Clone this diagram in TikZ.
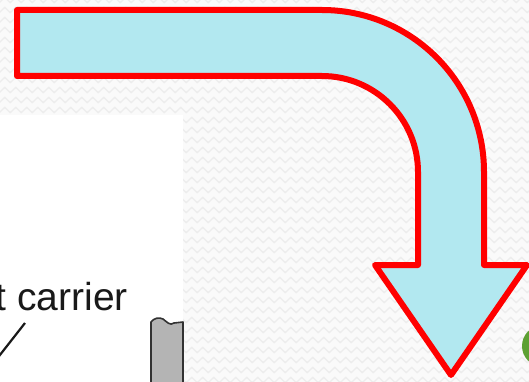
\documentclass[tikz,border=0pt]{standalone}
\usepackage{fontspec}
\setmainfont{Liberation Sans}
\usetikzlibrary{decorations.pathmorphing}
\definecolor{arrowfill}{RGB}{178,232,240}
\definecolor{arrowline}{RGB}{255,0,0}
\definecolor{bgbase}{RGB}{250,250,250}
\definecolor{bgzig}{RGB}{237,237,237}
\definecolor{bargrey}{RGB}{180,180,180}
\definecolor{barline}{RGB}{50,50,50}
\definecolor{leafgreen}{RGB}{92,160,50}
\tikzset{
  zigrow/.style={draw=bgzig, line width=1.3pt, decorate,
    decoration={zigzag, segment length=11pt, amplitude=2.6pt}},
  bigarrow/.style={draw=arrowline, fill=arrowfill, line width=6pt, line join=round},
  barpart/.style={draw=barline, fill=bargrey, line width=1.6pt, line join=round},
  leader/.style={draw=black!90, line width=2.2pt},
  labeltext/.style={inner sep=0pt, font=\fontsize{39}{44}\selectfont, text=black!90}
}
\begin{document}
\begin{tikzpicture}[x=1pt, y=-1pt]
\clip (0,0) rectangle (529,382);
\useasboundingbox (0,0) rectangle (529,382);
% background with faint zigzag texture
\fill[bgbase] (0,0) rectangle (529,382);
\foreach \r in {0,10,...,390} {
  \draw[zigrow] (-20,\r) -- (560,\r);
}
% white panel at left
\fill[white] (0,115) rectangle (183,390);
% label and leader
\node[labeltext, anchor=base east] (lbl) at (128,310) {t carrier};
\coordinate (ldA) at (25,323);
\coordinate (ldB) at (-4,360);
\draw[leader] (ldA) -- (ldB);
% grey bar with broken top
\draw[barpart] (151,395) -- (151,322)
  .. controls (154,318) and (159,317) .. (163,319)
  .. controls (167,322) and (170,326) .. (174,323)
  -- (183,322) -- (183,395);
% green shape at right edge
\fill[leafgreen] (541,346) ellipse[x radius=19, y radius=20];
% big bent arrow
\draw[bigarrow] (17,10) -- (322,10)
  arc[start angle=-90, end angle=0, radius=162]
  -- (484,265) -- (527,265) -- (451,375) -- (375,265) -- (418,265)
  -- (418,172)
  arc[start angle=0, end angle=-90, radius=96]
  -- (17,76) -- cycle;
\end{tikzpicture}
\end{document}
